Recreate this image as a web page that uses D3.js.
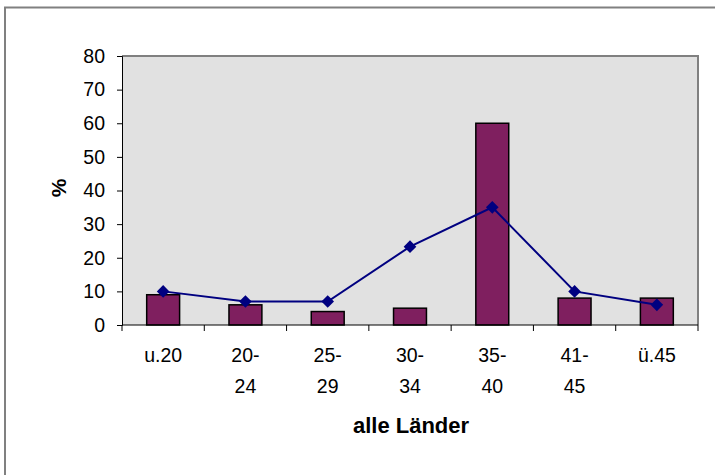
<!DOCTYPE html>
<html><head><meta charset="utf-8">
<script src="https://cdn.jsdelivr.net/npm/d3@7"></script>
<style>body{margin:0;background:#fff}svg{display:block}text{font-family:"Liberation Sans",Arial,sans-serif;fill:#000}</style>
</head><body><svg id="c" width="715" height="475"></svg>
<script>
const categories = [["u.20"],["20-","24"],["25-","29"],["30-","34"],["35-","40"],["41-","45"],["ü.45"]];
const barValues = [9, 6, 4, 5, 60, 8, 8];
const lineValues = [10, 7, 7, 23.3, 35, 10, 6];
const yTicks = [0,10,20,30,40,50,60,70,80];
const yLabel = "%";
const xTitle = "alle Länder";

const svg = d3.select("#c");
const pL = 122, pR = 698, pT = 56, pB = 325;
// outer frame
svg.append("rect").attr("x",5).attr("y",7.5).attr("width",730).attr("height",490)
  .attr("fill","#fff").attr("stroke","#808080").attr("stroke-width",2);
// plot area
svg.append("rect").attr("x",pL).attr("y",pT).attr("width",pR-pL).attr("height",pB-pT)
  .attr("fill","#e1e1e1");
svg.append("path").attr("d",`M${pL},${pT}H${pR}V${pB}`).attr("fill","none")
  .attr("stroke","#808080").attr("stroke-width",2);

const x = d3.scaleBand().domain(d3.range(categories.length)).range([pL,pR]);
const y = d3.scaleLinear().domain([0,80]).range([pB,pT]);

// bars
const bw = x.bandwidth()*0.4;
svg.append("g").selectAll("rect").data(barValues).join("rect")
  .attr("x",(d,i)=>x(i)+x.bandwidth()/2-bw/2).attr("y",d=>y(d))
  .attr("width",bw).attr("height",d=>y(0)-y(d))
  .attr("fill","#7f1f5f").attr("stroke","#000").attr("stroke-width",1.5);

// y axis
const ya = svg.append("g").attr("transform",`translate(${pL},0)`)
  .call(d3.axisLeft(y).tickValues(yTicks).tickSize(5).tickPadding(12));
ya.select(".domain").attr("stroke","#000").attr("stroke-width",1);
ya.selectAll("line").attr("stroke","#000");
ya.selectAll("text").style("font-size","19.5px").style("font-family","Liberation Sans, Arial, sans-serif");

// x axis
const xa = svg.append("g").attr("transform",`translate(0,${pB})`);
xa.append("line").attr("x1",pL).attr("x2",pR).attr("stroke","#000");
xa.selectAll("line.t").data(d3.range(categories.length+1)).join("line").attr("class","t")
  .attr("x1",i=>pL+i*x.step()).attr("x2",i=>pL+i*x.step()).attr("y1",0).attr("y2",6).attr("stroke","#000");
const lab = xa.selectAll("text").data(categories).join("text")
  .attr("text-anchor","middle").style("font-size","19.5px");
lab.each(function(lines,i){
  const t = d3.select(this);
  lines.forEach((s,j)=>t.append("tspan").attr("x",x(i)+x.bandwidth()/2).attr("y",37+j*31).text(s));
});

// line
const line = d3.line().x((d,i)=>x(i)+x.bandwidth()/2).y(d=>y(d));
svg.append("path").datum(lineValues).attr("d",line).attr("fill","none").attr("stroke","#000080").attr("stroke-width",2);
svg.append("g").selectAll("path").data(lineValues).join("path")
  .attr("d",d3.symbol(d3.symbolSquare,80))
  .attr("transform",(d,i)=>`translate(${x(i)+x.bandwidth()/2},${y(d)}) rotate(45)`)
  .attr("fill","#000080");

// titles
svg.append("text").attr("x",411).attr("y",433).attr("text-anchor","middle")
  .style("font-size","22px").style("font-weight","bold").text(xTitle);
svg.append("text").attr("transform","translate(66,188) rotate(-90)").attr("text-anchor","middle")
  .style("font-size","21px").style("font-weight","bold").text(yLabel);
</script></body></html>
